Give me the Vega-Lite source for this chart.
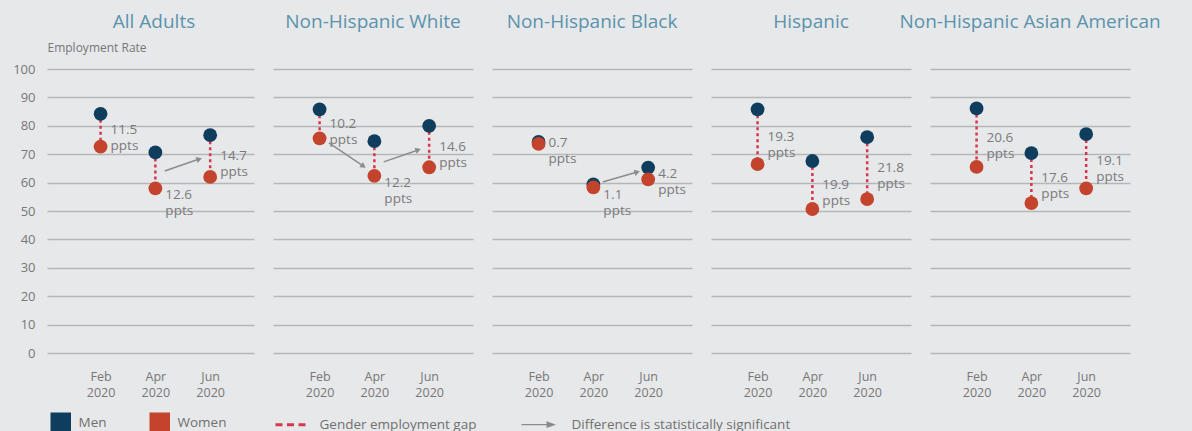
{
  "$schema": "https://vega.github.io/schema/vega-lite/v6.json",
  "background": "#e7e8ea",
  "padding": {"left": 12, "top": 13, "right": 40, "bottom": 30},
  "data": {"values": [
    {"kind": "rate", "group": "All Adults", "month": "Feb 2020", "sex": "Men", "rate": 84.2},
    {"kind": "rate", "group": "All Adults", "month": "Feb 2020", "sex": "Women", "rate": 72.7},
    {"kind": "rate", "group": "All Adults", "month": "Apr 2020", "sex": "Men", "rate": 70.6},
    {"kind": "rate", "group": "All Adults", "month": "Apr 2020", "sex": "Women", "rate": 58.0},
    {"kind": "rate", "group": "All Adults", "month": "Jun 2020", "sex": "Men", "rate": 76.7},
    {"kind": "rate", "group": "All Adults", "month": "Jun 2020", "sex": "Women", "rate": 62.0},
    {"kind": "rate", "group": "Non-Hispanic White", "month": "Feb 2020", "sex": "Men", "rate": 85.8},
    {"kind": "rate", "group": "Non-Hispanic White", "month": "Feb 2020", "sex": "Women", "rate": 75.6},
    {"kind": "rate", "group": "Non-Hispanic White", "month": "Apr 2020", "sex": "Men", "rate": 74.6},
    {"kind": "rate", "group": "Non-Hispanic White", "month": "Apr 2020", "sex": "Women", "rate": 62.4},
    {"kind": "rate", "group": "Non-Hispanic White", "month": "Jun 2020", "sex": "Men", "rate": 80.0},
    {"kind": "rate", "group": "Non-Hispanic White", "month": "Jun 2020", "sex": "Women", "rate": 65.4},
    {"kind": "rate", "group": "Non-Hispanic Black", "month": "Feb 2020", "sex": "Men", "rate": 74.3},
    {"kind": "rate", "group": "Non-Hispanic Black", "month": "Feb 2020", "sex": "Women", "rate": 73.6},
    {"kind": "rate", "group": "Non-Hispanic Black", "month": "Apr 2020", "sex": "Men", "rate": 59.4},
    {"kind": "rate", "group": "Non-Hispanic Black", "month": "Apr 2020", "sex": "Women", "rate": 58.3},
    {"kind": "rate", "group": "Non-Hispanic Black", "month": "Jun 2020", "sex": "Men", "rate": 65.3},
    {"kind": "rate", "group": "Non-Hispanic Black", "month": "Jun 2020", "sex": "Women", "rate": 61.1},
    {"kind": "rate", "group": "Hispanic", "month": "Feb 2020", "sex": "Men", "rate": 85.8},
    {"kind": "rate", "group": "Hispanic", "month": "Feb 2020", "sex": "Women", "rate": 66.5},
    {"kind": "rate", "group": "Hispanic", "month": "Apr 2020", "sex": "Men", "rate": 67.6},
    {"kind": "rate", "group": "Hispanic", "month": "Apr 2020", "sex": "Women", "rate": 50.7},
    {"kind": "rate", "group": "Hispanic", "month": "Jun 2020", "sex": "Men", "rate": 76.0},
    {"kind": "rate", "group": "Hispanic", "month": "Jun 2020", "sex": "Women", "rate": 54.2},
    {"kind": "rate", "group": "Non-Hispanic Asian American", "month": "Feb 2020", "sex": "Men", "rate": 86.1},
    {"kind": "rate", "group": "Non-Hispanic Asian American", "month": "Feb 2020", "sex": "Women", "rate": 65.5},
    {"kind": "rate", "group": "Non-Hispanic Asian American", "month": "Apr 2020", "sex": "Men", "rate": 70.4},
    {"kind": "rate", "group": "Non-Hispanic Asian American", "month": "Apr 2020", "sex": "Women", "rate": 52.8},
    {"kind": "rate", "group": "Non-Hispanic Asian American", "month": "Jun 2020", "sex": "Men", "rate": 77.1},
    {"kind": "rate", "group": "Non-Hispanic Asian American", "month": "Jun 2020", "sex": "Women", "rate": 58.0},
    {"kind": "gap", "group": "All Adults", "month": "Feb 2020", "gap": "11.5", "anchor": "mid"},
    {"kind": "gap", "group": "All Adults", "month": "Apr 2020", "gap": "12.6", "anchor": "below"},
    {"kind": "gap", "group": "All Adults", "month": "Jun 2020", "gap": "14.7", "anchor": "mid"},
    {"kind": "gap", "group": "Non-Hispanic White", "month": "Feb 2020", "gap": "10.2", "anchor": "mid"},
    {"kind": "gap", "group": "Non-Hispanic White", "month": "Apr 2020", "gap": "12.2", "anchor": "below"},
    {"kind": "gap", "group": "Non-Hispanic White", "month": "Jun 2020", "gap": "14.6", "anchor": "mid"},
    {"kind": "gap", "group": "Non-Hispanic Black", "month": "Feb 2020", "gap": "0.7", "anchor": "mid"},
    {"kind": "gap", "group": "Non-Hispanic Black", "month": "Apr 2020", "gap": "1.1", "anchor": "below"},
    {"kind": "gap", "group": "Non-Hispanic Black", "month": "Jun 2020", "gap": "4.2", "anchor": "mid"},
    {"kind": "gap", "group": "Hispanic", "month": "Feb 2020", "gap": "19.3", "anchor": "mid"},
    {"kind": "gap", "group": "Hispanic", "month": "Apr 2020", "gap": "19.9", "anchor": "mid"},
    {"kind": "gap", "group": "Hispanic", "month": "Jun 2020", "gap": "21.8", "anchor": "mid"},
    {"kind": "gap", "group": "Non-Hispanic Asian American", "month": "Feb 2020", "gap": "20.6", "anchor": "mid"},
    {"kind": "gap", "group": "Non-Hispanic Asian American", "month": "Apr 2020", "gap": "17.6", "anchor": "mid"},
    {"kind": "gap", "group": "Non-Hispanic Asian American", "month": "Jun 2020", "gap": "19.1", "anchor": "mid"},
    {"kind": "arrow", "group": "All Adults", "from": "Apr 2020", "to": "Jun 2020", "yFrom": 64.1, "yTo": 68.3},
    {"kind": "arrow", "group": "Non-Hispanic White", "from": "Feb 2020", "to": "Apr 2020", "yFrom": 74.0, "yTo": 65.8},
    {"kind": "arrow", "group": "Non-Hispanic White", "from": "Apr 2020", "to": "Jun 2020", "yFrom": 67.3, "yTo": 71.5},
    {"kind": "arrow", "group": "Non-Hispanic Black", "from": "Apr 2020", "to": "Jun 2020", "yFrom": 60.2, "yTo": 63.7}
  ]},
  "transform": [
    {"calculate": "indexof(['Feb 2020','Apr 2020','Jun 2020'], datum.month)", "as": "mi"}
  ],
  "facet": {
    "column": {
      "field": "group", "type": "nominal",
      "sort": ["All Adults", "Non-Hispanic White", "Non-Hispanic Black", "Hispanic", "Non-Hispanic Asian American"],
      "header": {"title": null, "labelFont": "Open Sans", "labelFontSize": 19, "labelColor": "#5b93ad", "labelPadding": 37, "labelLimit": 0}
    }
  },
  "spacing": 19,
  "spec": {
    "width": 200,
    "height": 284,
    "layer": [
      {
        "transform": [
          {"filter": "datum.kind === 'rate'"},
          {"pivot": "sex", "value": "rate", "groupby": ["group", "mi"]}
        ],
        "mark": {"type": "rule", "color": "#d6364e", "strokeWidth": 2.5, "strokeDash": [3, 3]},
        "encoding": {
          "x": {"field": "mi", "type": "quantitative", "scale": {"domain": [-0.85, 2.8]}, "axis": {"values": [0, 1, 2], "labelExpr": "[['Feb','Apr','Jun'][datum.value], '2020']"}, "title": null},
          "y": {"field": "Men", "type": "quantitative", "scale": {"domain": [0, 100]}, "axis": {"values": [0, 10, 20, 30, 40, 50, 60, 70, 80, 90, 100]}, "title": "Employment Rate"},
          "y2": {"field": "Women"}
        }
      },
      {
        "transform": [
          {"filter": "datum.kind === 'arrow'"},
          {"calculate": "indexof(['Feb 2020','Apr 2020','Jun 2020'], datum.from) + 0.17", "as": "x1"},
          {"calculate": "indexof(['Feb 2020','Apr 2020','Jun 2020'], datum.to) - 0.2", "as": "x2"}
        ],
        "mark": {"type": "rule", "color": "#8c8c8c", "strokeWidth": 1.5},
        "encoding": {
          "x": {"field": "x1", "type": "quantitative", "scale": {"domain": [-0.85, 2.8]}, "axis": {"values": [0, 1, 2], "labelExpr": "[['Feb','Apr','Jun'][datum.value], '2020']"}, "title": null},
          "x2": {"field": "x2"},
          "y": {"field": "yFrom", "type": "quantitative", "scale": {"domain": [0, 100]}, "axis": {"values": [0, 10, 20, 30, 40, 50, 60, 70, 80, 90, 100]}, "title": "Employment Rate"},
          "y2": {"field": "yTo"}
        }
      },
      {
        "transform": [
          {"filter": "datum.kind === 'arrow'"},
          {"calculate": "indexof(['Feb 2020','Apr 2020','Jun 2020'], datum.from) + 0.17", "as": "x1"},
          {"calculate": "indexof(['Feb 2020','Apr 2020','Jun 2020'], datum.to) - 0.2", "as": "x2"},
          {"calculate": "atan2(-(datum.yTo - datum.yFrom) * 2.84, (datum.x2 - datum.x1) * 54.8) * 180 / PI", "as": "ang"}
        ],
        "mark": {"type": "point", "shape": "triangle-right", "filled": true, "color": "#8c8c8c", "size": 40, "opacity": 1},
        "encoding": {
          "x": {"field": "x2", "type": "quantitative", "scale": {"domain": [-0.85, 2.8]}, "axis": {"values": [0, 1, 2], "labelExpr": "[['Feb','Apr','Jun'][datum.value], '2020']"}, "title": null},
          "y": {"field": "yTo", "type": "quantitative", "scale": {"domain": [0, 100]}, "axis": {"values": [0, 10, 20, 30, 40, 50, 60, 70, 80, 90, 100]}, "title": "Employment Rate"},
          "angle": {"field": "ang", "type": "quantitative", "scale": null}
        }
      },
      {
        "transform": [
          {"filter": "datum.kind === 'rate' || datum.kind === 'gap'"},
          {"calculate": "datum.sex === 'Men' ? datum.rate : null", "as": "mv"},
          {"calculate": "datum.sex === 'Women' ? datum.rate : null", "as": "wv"},
          {"joinaggregate": [{"op": "max", "field": "mv", "as": "M"}, {"op": "max", "field": "wv", "as": "W"}], "groupby": ["group", "mi"]},
          {"filter": "datum.kind === 'gap'"},
          {"calculate": "datum.anchor === 'below' ? datum.W - 2.5 : (datum.M + datum.W) / 2", "as": "ly"},
          {"calculate": "datum.gap + '\\nppts'", "as": "lbl"}
        ],
        "mark": {"type": "text", "align": "left", "baseline": "middle", "dx": 10, "font": "Open Sans", "fontSize": 13.5, "color": "#7a7a7a", "lineHeight": 16, "lineBreak": "\n"},
        "encoding": {
          "x": {"field": "mi", "type": "quantitative", "scale": {"domain": [-0.85, 2.8]}, "axis": {"values": [0, 1, 2], "labelExpr": "[['Feb','Apr','Jun'][datum.value], '2020']"}, "title": null},
          "y": {"field": "ly", "type": "quantitative", "scale": {"domain": [0, 100]}, "axis": {"values": [0, 10, 20, 30, 40, 50, 60, 70, 80, 90, 100]}, "title": "Employment Rate"},
          "text": {"field": "lbl", "type": "nominal"}
        }
      },
      {
        "transform": [{"filter": "datum.kind === 'rate'"}],
        "mark": {"type": "circle", "size": 190, "opacity": 1},
        "encoding": {
          "x": {"field": "mi", "type": "quantitative", "scale": {"domain": [-0.85, 2.8]}, "axis": {"values": [0, 1, 2], "labelExpr": "[['Feb','Apr','Jun'][datum.value], '2020']"}, "title": null},
          "y": {"field": "rate", "type": "quantitative", "scale": {"domain": [0, 100]}, "axis": {"values": [0, 10, 20, 30, 40, 50, 60, 70, 80, 90, 100]}, "title": "Employment Rate"},
          "color": {
            "field": "sex", "type": "nominal",
            "scale": {"domain": ["Men", "Women", "Gender employment gap", "Difference is statistically significant"], "range": ["#0f3d5e", "#c4432c", "#d6364e", "#8c8c8c"]},
            "legend": {
              "orient": "bottom", "direction": "horizontal", "title": null, "offset": 17,
              "symbolType": "square", "symbolSize": 420, "symbolOpacity": 1, "symbolStrokeWidth": 0,
              "labelFont": "Open Sans", "labelFontSize": 13.5, "labelColor": "#707070", "labelOffset": 11, "labelLimit": 0,
              "columnPadding": 42,
              "encode": {
                "symbols": {"update": {
                  "shape": {"signal": "datum.value === 'Gender employment gap' ? 'M-1,0H2' : datum.value === 'Difference is statistically significant' ? 'M-1,0H1.7M1.5,-0.25L2.2,0L1.5,0.25Z' : 'square'"},
                  "stroke": {"signal": "scale('color', datum.value)"},
                  "strokeWidth": {"signal": "datum.value === 'Gender employment gap' ? 3 : datum.value === 'Difference is statistically significant' ? 1.2 : 0"},
                  "strokeDash": {"signal": "datum.value === 'Gender employment gap' ? [7, 4.5] : []"},
                  "fill": {"signal": "datum.value === 'Gender employment gap' ? 'transparent' : scale('color', datum.value)"}
                }},
                "labels": {"update": {
                  "dx": {"signal": "datum.value === 'Gender employment gap' ? 16 : datum.value === 'Difference is statistically significant' ? 22 : 0"}
                }}
              }
            }
          }
        }
      }
    ]
  },
  "config": {
    "font": "Open Sans",
    "view": {"stroke": null},
    "axisY": {
      "domain": false, "ticks": true, "tickSize": 7, "tickColor": "#b4b6b9", "tickWidth": 1.5,
      "grid": true, "gridColor": "#b4b6b9", "gridWidth": 1.5,
      "labelFont": "Open Sans", "labelFontSize": 13, "labelColor": "#777777", "labelPadding": 12,
      "titleAngle": 0, "titleAlign": "left", "titleBaseline": "middle", "titleX": -7, "titleY": -22,
      "titleFont": "Open Sans", "titleFontSize": 12, "titleColor": "#777777", "titleFontWeight": "normal"
    },
    "axisX": {
      "domain": false, "ticks": false, "grid": false,
      "labelFont": "Open Sans", "labelFontSize": 12.5, "labelColor": "#777777",
      "labelPadding": 17, "labelLineHeight": 16
    }
  }
}
